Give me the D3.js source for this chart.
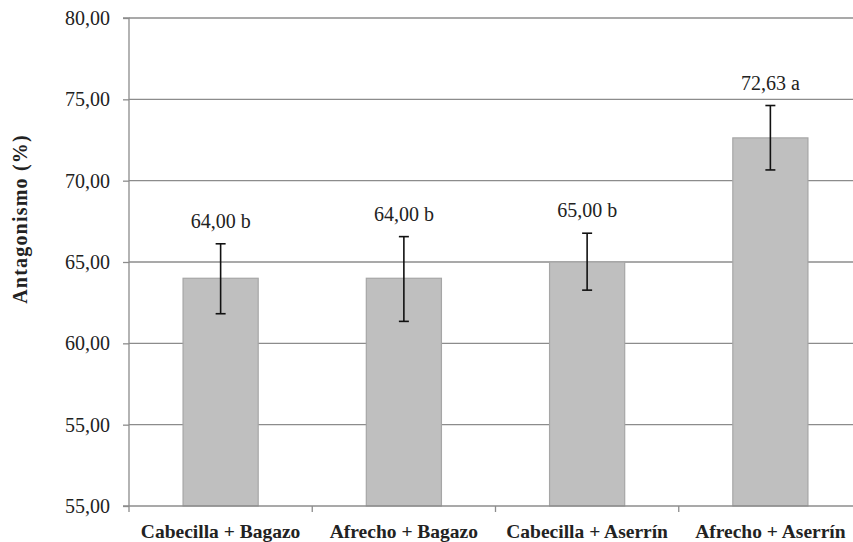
<!DOCTYPE html>
<html><head><meta charset="utf-8">
<script src="https://cdn.jsdelivr.net/npm/d3@7"></script>
<style>body{margin:0;background:#fff}svg{display:block}svg text,svg .tick text{font-family:Liberation Serif,serif !important}</style>
</head><body>
<svg id="chart" width="853" height="542" font-family="Liberation Serif"></svg>
<script>
const categories = ["Cabecilla + Bagazo", "Afrecho + Bagazo", "Cabecilla + Aserrín", "Afrecho + Aserrín"];
const values = [64.00, 64.00, 65.00, 72.63];
const errorsUp = [2.12, 2.56, 1.77, 1.99];
const errorsDown = [2.18, 2.65, 1.73, 1.97];
const valueLabels = ["64,00 b", "64,00 b", "65,00 b", "72,63 a"];
const tickValues = [50, 55, 60, 65, 70, 75, 80];
const tickLabels = ["55,00", "55,00", "60,00", "65,00", "70,00", "75,00", "80,00"];
const yTitle = "Antagonismo (%)";

(function () {
const svg = d3.select("#chart");
const font = "Liberation Serif";
const setFont = sel => sel.attr("font-family", font).style("font-family", "Liberation Serif, serif", "important");
const pLeft = 129, pRight = 862, pTop = 18, pBottom = 506;

const x = d3.scaleBand().domain(categories).range([pLeft, pRight]).paddingInner(0.59).paddingOuter(0.295);
const y = d3.scaleLinear().domain([50, 80]).range([pBottom, pTop]);

// gridlines
svg.append("g").selectAll("line").data(tickValues.slice(1)).join("line")
  .attr("x1", pLeft).attr("x2", 853)
  .attr("y1", d => y(d)).attr("y2", d => y(d))
  .attr("stroke", "#8c8c8c").attr("stroke-width", 1.3);

// bars
svg.append("g").selectAll("rect").data(values).join("rect")
  .attr("x", (d, i) => x(categories[i]))
  .attr("width", x.bandwidth())
  .attr("y", d => y(d))
  .attr("height", d => y(50) - y(d))
  .attr("fill", "#bfbfbf").attr("stroke", "#a6a6a6").attr("stroke-width", 1.2);

// y axis
const yAxis = d3.axisLeft(y).tickValues(tickValues).tickSize(6).tickPadding(13)
  .tickFormat((d, i) => tickLabels[i]);
const gy = svg.append("g").attr("transform", `translate(${pLeft},0)`).call(yAxis)
  .attr("font-size", 20);
setFont(gy);
gy.select(".domain").attr("stroke", "#8c8c8c").attr("stroke-width", 1.3).attr("d", `M-6,${pTop}H0V${pBottom}`);
gy.selectAll(".tick line").attr("stroke", "#8c8c8c").attr("stroke-width", 1.3);
setFont(gy.selectAll(".tick text").attr("font-size", 20).attr("fill", "#222"));

// x axis
const band = (pRight - pLeft) / categories.length;
const xTicks = d3.range(categories.length + 1).map(i => pLeft + i * band);
const gx = svg.append("g");
gx.append("line").attr("x1", pLeft - 6).attr("x2", 853).attr("y1", pBottom).attr("y2", pBottom)
  .attr("stroke", "#8c8c8c").attr("stroke-width", 1.3);
gx.selectAll(".xt").data(xTicks.filter(v => v < 853)).join("line").attr("class", "xt")
  .attr("x1", d => d).attr("x2", d => d).attr("y1", pBottom).attr("y2", pBottom + 6)
  .attr("stroke", "#8c8c8c").attr("stroke-width", 1.3);
setFont(gx.selectAll("text").data(categories).join("text")
  .attr("x", d => x(d) + x.bandwidth() / 2).attr("y", 538)
  .attr("text-anchor", "middle").attr("font-size", 19.5)
  .attr("font-weight", "bold").attr("fill", "#222").text(d => d));

// error bars
const eg = svg.append("g").attr("stroke", "#111").attr("stroke-width", 1.6);
values.forEach((v, i) => {
  const cx = x(categories[i]) + x.bandwidth() / 2;
  const y1 = y(v + errorsUp[i]), y2 = y(v - errorsDown[i]);
  eg.append("line").attr("x1", cx).attr("x2", cx).attr("y1", y1).attr("y2", y2);
  eg.append("line").attr("x1", cx - 5).attr("x2", cx + 5).attr("y1", y1).attr("y2", y1);
  eg.append("line").attr("x1", cx - 5).attr("x2", cx + 5).attr("y1", y2).attr("y2", y2);
  setFont(svg.append("text").attr("x", cx).attr("y", y1 - 16)
    .attr("text-anchor", "middle").attr("font-size", 20)
    .attr("fill", "#222").text(valueLabels[i]));
});

// y title
setFont(svg.append("text").attr("transform", "translate(27,219) rotate(-90)")
  .attr("text-anchor", "middle").attr("font-size", 20)
  .attr("font-weight", "bold").attr("letter-spacing", 1.2).attr("fill", "#222").text(yTitle));
})();
</script>
</body></html>
